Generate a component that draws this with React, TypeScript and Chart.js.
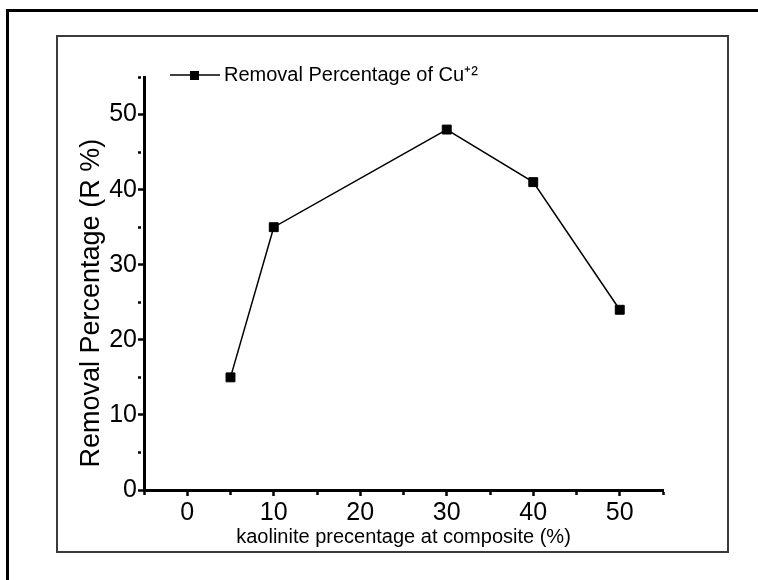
import React, { useEffect, useRef } from 'react';
import { Chart, registerables } from 'chart.js';

Chart.register(...registerables);

// ---- data ----
const kaolinitePct = [5, 10, 30, 40, 50];
const removalPct = [15, 35, 48, 41, 24];
const xTickLabels = ['0', '10', '20', '30', '40', '50'];
const yTickLabels = ['0', '10', '20', '30', '40', '50'];
const seriesLabel = 'Removal Percentage of Cu\u207A\u00B2';
const xTitle = 'kaolinite precentage at composite (%)';
const yTitle = '   Removal Percentage (R %)';

const FONT = "'Liberation Sans', Arial, Helvetica, sans-serif";

function makeLegendSymbol(): HTMLCanvasElement {
  const sym = document.createElement('canvas');
  sym.width = 103;
  sym.height = 12;
  const c = sym.getContext('2d')!;
  c.strokeStyle = '#000';
  c.lineWidth = 1.5;
  c.beginPath();
  c.moveTo(10, 6);
  c.lineTo(60, 6);
  c.stroke();
  c.fillStyle = '#000';
  c.fillRect(30, 2, 9, 9);
  return sym;
}

export default function App() {
  const ref = useRef<HTMLCanvasElement | null>(null);

  useEffect(() => {
    if (!ref.current) return;
    const minorDash = (ctx: any) =>
      ctx.tick && Math.abs(ctx.tick.value % 10) > 1e-9 ? [3, 40] : [];

    const chart = new Chart(ref.current, {
      type: 'line',
      data: {
        datasets: [
          {
            label: seriesLabel,
            data: kaolinitePct.map((x, i) => ({ x, y: removalPct[i] })),
            borderColor: '#000',
            borderWidth: 1.5,
            backgroundColor: '#000',
            pointStyle: 'rect',
            pointRadius: 6.3,
            pointBackgroundColor: '#000',
            pointBorderColor: '#000',
            pointBorderWidth: 1,
            tension: 0,
            fill: false,
          },
        ],
      },
      options: {
        animation: false,
        responsive: false,
        devicePixelRatio: 1,
        layout: { padding: { left: 75, right: 95, top: 77, bottom: 31 } },
        plugins: {
          tooltip: { enabled: false },
          legend: {
            display: true,
            position: 'chartArea',
            align: 'start',
            labels: {
              usePointStyle: true,
              pointStyle: makeLegendSymbol(),
              pointStyleWidth: 5,
              padding: 65,
              color: '#000',
              font: { family: FONT, size: 20 },
            },
          },
        },
        scales: {
          x: {
            type: 'linear',
            min: -5,
            max: 55,
            afterFit: (s: any) => {
              s.height = 59;
              s.paddingLeft = 0;
              s.paddingRight = 0;
            },
            ticks: {
              stepSize: 5,
              autoSkip: false,
              maxRotation: 0,
              padding: 2,
              color: '#000',
              font: { family: FONT, size: 25 },
              callback: (v: any) => {
                const s = String(v);
                return xTickLabels.includes(s) ? s : '';
              },
            },
            grid: {
              display: true,
              drawOnChartArea: false,
              drawTicks: true,
              tickLength: 6,
              tickWidth: 2.5,
              tickColor: '#000',
              tickBorderDash: minorDash,
            },
            border: { display: true, color: '#000', width: 3 },
            title: {
              display: true,
              text: xTitle,
              color: '#000',
              padding: 0,
              font: { family: FONT, size: 20 },
            },
          },
          y: {
            type: 'linear',
            min: 0,
            max: 55,
            afterFit: (s: any) => {
              s.width = 69;
              s.paddingTop = 0;
              s.paddingBottom = 0;
            },
            ticks: {
              stepSize: 5,
              includeBounds: true,
              autoSkip: false,
              padding: 1,
              color: '#000',
              font: { family: FONT, size: 25 },
              callback: (v: any) => {
                const s = String(v);
                return yTickLabels.includes(s) ? s : '';
              },
            },
            grid: {
              display: true,
              drawOnChartArea: false,
              drawTicks: true,
              tickLength: 6,
              tickWidth: 2.5,
              tickColor: '#000',
              tickBorderDash: minorDash,
            },
            border: { display: true, color: '#000', width: 3 },
            title: {
              display: true,
              text: yTitle,
              align: 'start',
              color: '#000',
              padding: 0,
              font: { family: FONT, size: 27 },
            },
          },
        },
      },
    } as any);
    return () => chart.destroy();
  }, []);

  return (
    <div
      style={{
        position: 'absolute',
        left: 0,
        top: 0,
        width: 758,
        height: 580,
        overflow: 'hidden',
        background: '#fff',
      }}
    >
      <div
        style={{
          position: 'absolute',
          left: 6,
          top: 9,
          width: 900,
          height: 700,
          borderLeft: '3px solid #000',
          borderTop: '3px solid #000',
        }}
      />
      <div
        style={{
          position: 'absolute',
          left: 56,
          top: 35,
          width: 673,
          height: 518,
          boxSizing: 'border-box',
          border: '2px solid #3a3a3a',
        }}
      />
      <canvas
        ref={ref}
        width={758}
        height={580}
        style={{ position: 'absolute', left: 0, top: 0, width: 758, height: 580 }}
      />
    </div>
  );
}
